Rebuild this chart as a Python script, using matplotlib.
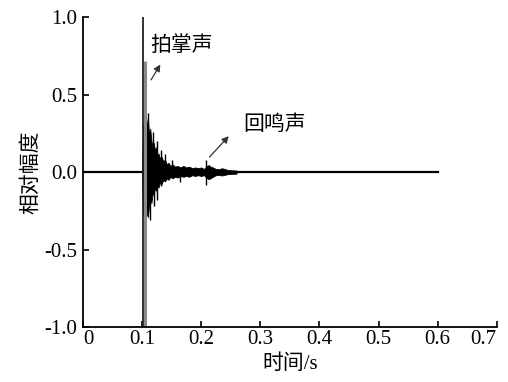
import numpy as np
import matplotlib
matplotlib.use("Agg")
import matplotlib.pyplot as plt

# quiet baseline (noise floor) before and after the clap
base_t = [0.0, 0.6]
base_v = [0.0, 0.0]

# envelope of the clap response
env_t = [0.100, 0.102, 0.104, 0.106, 0.108, 0.110, 0.112, 0.114, 0.116, 0.118,
         0.120, 0.122, 0.124, 0.126, 0.128, 0.130, 0.133, 0.136, 0.139, 0.142,
         0.145, 0.148, 0.152, 0.156, 0.160, 0.165, 0.170, 0.175, 0.180, 0.185,
         0.190, 0.195, 0.200, 0.205, 0.210, 0.213, 0.216, 0.220, 0.225, 0.230,
         0.235, 0.240, 0.245, 0.250, 0.260]
env_up = [0.01, 0.30, 0.32, 0.33, 0.30, 0.35, 0.24, 0.28, 0.20, 0.17,
          0.19, 0.14, 0.16, 0.11, 0.12, 0.09, 0.10, 0.07, 0.08, 0.05,
          0.06, 0.04, 0.05, 0.035, 0.04, 0.03, 0.04, 0.03, 0.035, 0.025,
          0.03, 0.025, 0.03, 0.02, 0.04, 0.045, 0.035, 0.03, 0.02, 0.018,
          0.025, 0.02, 0.014, 0.012, 0.01]
env_lo = [-0.01, -0.28, -0.30, -0.26, -0.27, -0.29, -0.22, -0.16, -0.20, -0.13,
          -0.15, -0.10, -0.12, -0.09, -0.10, -0.07, -0.08, -0.05, -0.06, -0.04,
          -0.05, -0.03, -0.04, -0.03, -0.035, -0.025, -0.03, -0.025, -0.03, -0.02,
          -0.025, -0.02, -0.025, -0.02, -0.04, -0.045, -0.04, -0.03, -0.02, -0.018,
          -0.022, -0.018, -0.013, -0.012, -0.01]

# single spikes sticking out of the envelope
spike_t = [0.111, 0.113, 0.118, 0.120, 0.125, 0.132, 0.139, 0.150, 0.164, 0.208]
spike_up = [0.38, 0.20, 0.26, 0.12, 0.20, 0.14, 0.115, 0.08, 0.03, 0.075]
spike_lo = [-0.20, -0.31, -0.12, -0.22, -0.18, -0.09, -0.06, -0.04, -0.065, -0.085]

# the clap itself: clipped dark line and grey smear
clap_t = 0.102
clap_lo, clap_hi = -1.0, 1.0
smear_t = 0.1058
smear_lo, smear_hi = -1.0, 0.72

xticks = [0, 0.1, 0.2, 0.3, 0.4, 0.5, 0.6, 0.7]
xtick_labels = ["0", "0.1", "0.2", "0.3", "0.4", "0.5", "0.6", "0.7"]
yticks = [-1.0, -0.5, 0.0, 0.5, 1.0]
ytick_labels = ["-1.0", "-0.5", "0.0", "0.5", "1.0"]

serif = ["Liberation Serif", "Noto Sans CJK SC"]
cjk = ["Noto Sans CJK SC", "DejaVu Sans"]

fig = plt.figure(figsize=(5.08, 3.82), dpi=100)
ax = fig.add_axes([0.163, 0.144, 0.815, 0.811])

ax.plot(base_t, base_v, color="black", lw=1.6)
ax.fill_between(env_t, env_lo, env_up, color="black", lw=0.6, edgecolor="black")
ax.vlines(spike_t, spike_lo, spike_up, color="black", lw=1.0)
ax.vlines([smear_t], [smear_lo], [smear_hi], color="#8a8a8a", lw=2.2)
ax.vlines([clap_t], [clap_lo], [clap_hi], color="#222222", lw=1.3)

ax.annotate("", xy=(0.1335, 0.71), xytext=(0.113, 0.58),
            arrowprops=dict(arrowstyle="-|>", color="#333333", lw=0.9, mutation_scale=10))
ax.text(0.167, 0.82, "拍掌声", family=cjk, fontsize=15, ha="center", va="center")
ax.annotate("", xy=(0.250, 0.245), xytext=(0.211, 0.084),
            arrowprops=dict(arrowstyle="-|>", color="#333333", lw=0.9, mutation_scale=10))
ax.text(0.325, 0.31, "回鸣声", family=cjk, fontsize=15, ha="center", va="center")

ax.set_xlim(0, 0.7)
ax.set_ylim(-1.0, 1.0)
ax.set_xticks(xticks)
ax.set_xticklabels(xtick_labels, family=serif, fontsize=15)
ax.set_yticks(yticks)
ax.set_yticklabels(ytick_labels, family=serif, fontsize=15)
ax.tick_params(direction="in", length=4, width=1.2, pad=2)
ax.tick_params(axis="y", pad=4)

# keep the first and last x labels clear of the corner and the edge
xl = ax.get_xticklabels()
xl[0].set_ha("left")
xl[-1].set_ha("right")

ax.spines["top"].set_visible(False)
ax.spines["right"].set_visible(False)
ax.spines["left"].set_linewidth(1.3)
ax.spines["bottom"].set_linewidth(1.3)

ax.set_xlabel("时间/s", family=serif, fontsize=15, labelpad=4)
ax.set_ylabel("相对幅度", family=cjk, fontsize=15, labelpad=2)

fig.savefig("out.png", dpi=100)
